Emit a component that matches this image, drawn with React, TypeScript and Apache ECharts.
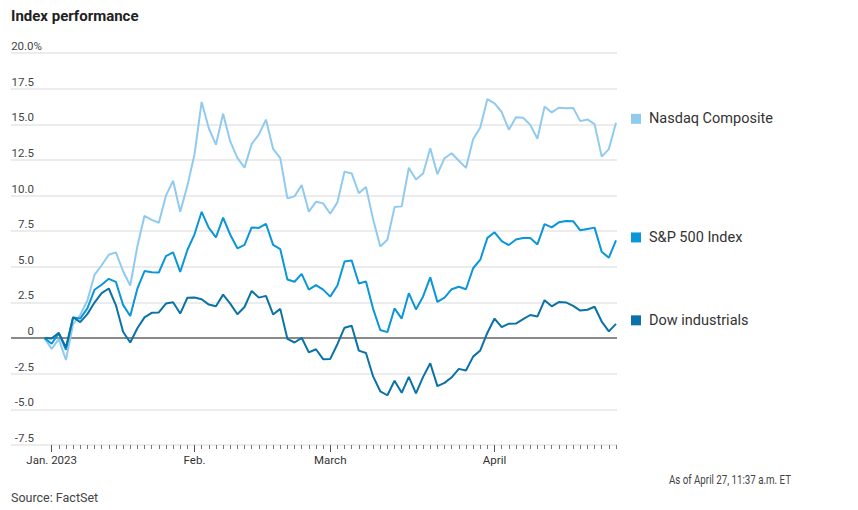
import React, { useEffect, useRef } from "react";
import * as echarts from "echarts";

const dates: string[] = [
  "2022-12-30",
  "2023-01-03", "2023-01-04", "2023-01-05", "2023-01-06", "2023-01-09", "2023-01-10", "2023-01-11", "2023-01-12", "2023-01-13", "2023-01-17",
  "2023-01-18", "2023-01-19", "2023-01-20", "2023-01-23", "2023-01-24", "2023-01-25", "2023-01-26", "2023-01-27", "2023-01-30", "2023-01-31",
  "2023-02-01", "2023-02-02", "2023-02-03", "2023-02-06", "2023-02-07", "2023-02-08", "2023-02-09", "2023-02-10", "2023-02-13", "2023-02-14",
  "2023-02-15", "2023-02-16", "2023-02-17", "2023-02-21", "2023-02-22", "2023-02-23", "2023-02-24", "2023-02-27", "2023-02-28",
  "2023-03-01", "2023-03-02", "2023-03-03", "2023-03-06", "2023-03-07", "2023-03-08", "2023-03-09", "2023-03-10", "2023-03-13", "2023-03-14",
  "2023-03-15", "2023-03-16", "2023-03-17", "2023-03-20", "2023-03-21", "2023-03-22", "2023-03-23", "2023-03-24", "2023-03-27", "2023-03-28",
  "2023-03-29", "2023-03-30", "2023-03-31",
  "2023-04-03", "2023-04-04", "2023-04-05", "2023-04-06", "2023-04-10", "2023-04-11", "2023-04-12", "2023-04-13", "2023-04-14", "2023-04-17",
  "2023-04-18", "2023-04-19", "2023-04-20", "2023-04-21", "2023-04-24", "2023-04-25", "2023-04-26", "2023-04-27",
];

const monthLabels: Record<string, string> = {
  "2023-01-03": "Jan. 2023",
  "2023-02-01": "Feb.",
  "2023-03-01": "March",
  "2023-04-03": "April",
};

const nasdaq: number[] = [
  0, -0.76, -0.07, -1.54, 0.98, 1.62, 2.64, 4.44, 5.11, 5.85, 6.01, 4.69, 3.69, 6.44, 8.58, 8.29, 8.09, 9.99, 11.04, 8.86, 10.68,
  12.9, 16.57, 14.72, 13.57, 15.74, 13.8, 12.64, 11.96, 13.62, 14.27, 15.33, 13.27, 12.62, 9.8, 9.94, 10.74, 8.87, 9.56, 9.45,
  8.72, 9.52, 11.68, 11.55, 10.16, 10.6, 8.33, 6.42, 6.9, 9.19, 9.24, 11.95, 11.12, 11.55, 13.32, 11.5, 12.62, 12.97, 12.44, 11.94, 13.95, 14.78, 16.77,
  16.46, 15.86, 14.62, 15.49, 15.46, 14.96, 13.98, 16.24, 15.83, 16.16, 16.12, 16.15, 15.22, 15.34, 15.01, 12.73, 13.26, 15.1,
];

const sp500: number[] = [
  0, -0.4, 0.35, -0.82, 1.45, 1.37, 2.08, 3.39, 3.74, 4.16, 3.94, 2.33, 1.55, 3.47, 4.7, 4.62, 4.6, 5.75, 6.02, 4.64, 6.18,
  7.28, 8.86, 7.73, 7.07, 8.45, 7.25, 6.3, 6.54, 7.76, 7.73, 8.02, 6.54, 6.24, 4.11, 3.95, 4.5, 3.4, 3.72, 3.4,
  2.91, 3.69, 5.37, 5.44, 3.83, 3.97, 2.05, 0.57, 0.42, 2.08, 1.37, 3.15, 2.01, 2.92, 4.26, 2.54, 2.84, 3.43, 3.6, 3.43, 4.9, 5.5, 7.03,
  7.42, 6.8, 6.53, 6.92, 7.02, 7.02, 6.57, 7.99, 7.77, 8.12, 8.21, 8.2, 7.56, 7.66, 7.75, 6.05, 5.64, 6.85,
];

const dow: number[] = [
  0, -0.03, 0.37, -0.66, 1.46, 1.12, 1.68, 2.49, 3.15, 3.48, 2.3, 0.45, -0.31, 0.69, 1.45, 1.77, 1.8, 2.42, 2.51, 1.72, 2.83,
  2.85, 2.73, 2.35, 2.24, 3.05, 2.42, 1.67, 2.18, 3.31, 2.84, 2.96, 1.66, 2.05, -0.05, -0.31, 0.02, -1.0, -0.78, -1.48,
  -1.46, -0.43, 0.73, 0.86, -0.88, -1.05, -2.69, -3.73, -4.01, -2.99, -3.84, -2.72, -3.88, -2.72, -1.77, -3.37, -3.14, -2.75, -2.16, -2.27, -1.3, -0.87, 0.38,
  1.37, 0.77, 1.01, 1.02, 1.33, 1.62, 1.51, 2.66, 2.23, 2.53, 2.5, 2.26, 1.93, 1.99, 2.2, 1.16, 0.47, 1.0,
];

const yTickValues: number[] = [-7.5, -5, -2.5, 0, 2.5, 5, 7.5, 10, 12.5, 15, 17.5, 20];
const yTickLabels: string[] = ["-7.5", "-5.0", "-2.5", "0", "2.5", "5.0", "7.5", "10.0", "12.5", "15.0", "17.5", "20.0%"];

const seriesNames = ["Nasdaq Composite", "S&P 500 Index", "Dow industrials"];
const seriesColors = ["#90cbef", "#0a96d8", "#0a72a6"];
const labelOffsets = [-4, -3, -3.5];

const BASE_FONT = "Roboto, 'Noto Sans', sans-serif";

export default function App() {
  const ref = useRef<HTMLDivElement>(null);

  useEffect(() => {
    if (!ref.current) return;
    const chart = echarts.init(ref.current, undefined, { renderer: "svg" });

    const gridTop = 53;
    const gridBottom = 65;

    const lineColors = yTickValues.map((v) => (v === 0 ? "#8a8a8a" : "#ececec"));

    const makeSeries = (idx: number, data: number[]) => {
      const name = seriesNames[idx];
      const color = seriesColors[idx];
      return {
        name,
        type: "line",
        xAxisIndex: 1,
        yAxisIndex: 1,
        data,
        symbol: "none",
        lineStyle: { color, width: 2 },
        itemStyle: { color },
        endLabel: {
          show: true,
          distance: 15,
          offset: [0, labelOffsets[idx]],
          formatter: `{s|}{t|${name}}`,
          rich: {
            s: { width: 10, height: 10, backgroundColor: color },
            t: { fontSize: 14.5, color: "#333", padding: [0, 0, 0, 8], fontFamily: BASE_FONT },
          },
        },
      };
    };

    const isMonth = (_i: number, v: string) => v in monthLabels;

    chart.setOption({
      animation: false,
      textStyle: { fontFamily: BASE_FONT },
      title: {
        text: "Index performance",
        left: 11,
        top: 8,
        padding: 0,
        textStyle: { fontSize: 15, fontWeight: "bold", color: "#222", fontFamily: BASE_FONT },
      },
      grid: [
        { left: 11, right: 241, top: gridTop, bottom: gridBottom },
        { left: 44.5, right: 242, top: gridTop, bottom: gridBottom },
      ],
      xAxis: [
        { gridIndex: 0, type: "value", show: false, min: 0, max: 1 },
        {
          gridIndex: 1,
          type: "category",
          data: dates,
          boundaryGap: false,
          axisLine: { show: false, onZero: false },
          axisTick: { show: true, interval: (i: number) => i >= 1, length: 4, lineStyle: { color: "#777" } },
          axisLabel: { show: false },
          splitLine: { show: false },
        },
        {
          gridIndex: 1,
          type: "category",
          data: dates,
          boundaryGap: false,
          position: "bottom",
          axisLine: { show: false, onZero: false },
          axisTick: { show: true, interval: isMonth, length: 7, lineStyle: { color: "#555" } },
          axisLabel: {
            interval: isMonth,
            formatter: (v: string) => monthLabels[v] ?? "",
            margin: 9,
            color: "#333",
            fontSize: 11.5,
            fontFamily: BASE_FONT,
          },
          splitLine: { show: false },
        },
      ],
      yAxis: [
        {
          gridIndex: 0,
          type: "value",
          min: -7.5,
          max: 20,
          interval: 2.5,
          axisLine: { show: false },
          axisTick: { show: false },
          splitLine: { show: true, lineStyle: { color: lineColors, width: 2 } },
          axisLabel: {
            inside: true,
            align: "right",
            verticalAlign: "bottom",
            margin: 31,
            formatter: (v: number) => {
              const idx = yTickValues.findIndex((t) => Math.abs(t - v) < 1e-6);
              const lab = idx >= 0 ? yTickLabels[idx] : String(v);
              if (lab.endsWith("%")) return `{n|${lab.slice(0, -1)}}{p|%}`;
              return `{m|${lab}}`;
            },
            rich: {
              n: { fontSize: 11.5, color: "#444", lineHeight: 14, fontFamily: BASE_FONT },
              p: { fontSize: 11.5, color: "#444", lineHeight: 14, fontFamily: BASE_FONT },
              m: { fontSize: 11.5, color: "#444", lineHeight: 14, padding: [0, 8, 0, 0], fontFamily: BASE_FONT },
            },
          },
        },
        {
          gridIndex: 1,
          type: "value",
          min: -7.5,
          max: 20,
          interval: 2.5,
          show: false,
          splitLine: { show: false },
        },
      ],
      graphic: [
        {
          type: "text",
          x: 11,
          y: 497,
          style: {
            text: "Source: FactSet",
            fontSize: 12.5,
            fill: "#444",
            fontFamily: BASE_FONT,
            textAlign: "left",
            textVerticalAlign: "middle",
          },
        },
        {
          type: "text",
          x: 791,
          y: 480,
          scaleX: 0.78,
          style: {
            text: "As of April 27, 11:37 a.m. ET",
            fontSize: 12.5,
            fill: "#444",
            fontFamily: BASE_FONT,
            textAlign: "right",
            textVerticalAlign: "middle",
          },
        },
      ],
      series: [makeSeries(0, nasdaq), makeSeries(1, sp500), makeSeries(2, dow)],
    });

    return () => chart.dispose();
  }, []);

  return (
    <div
      ref={ref}
      style={{ position: "absolute", left: 0, top: 0, width: 858, height: 510, background: "#fff" }}
    />
  );
}
